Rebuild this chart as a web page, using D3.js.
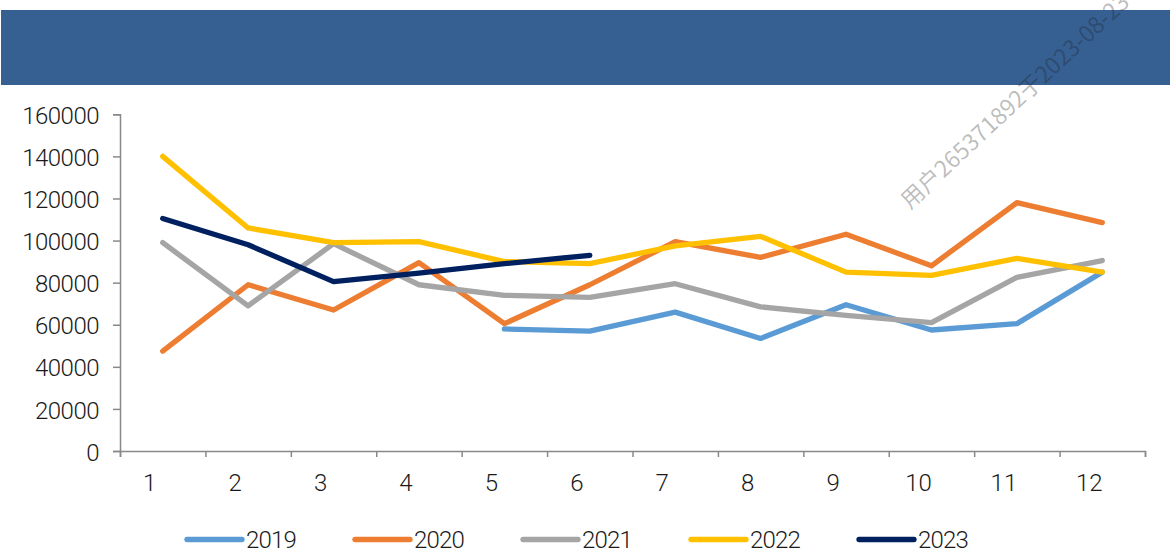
<!DOCTYPE html>
<html>
<head>
<meta charset="utf-8">
<script src="https://cdn.jsdelivr.net/npm/d3@7"></script>
<style>
  body { margin: 0; background: #fff; }
  svg { display: block; }
  text { font-family: Roboto, "Noto Sans", sans-serif; font-weight: 300; fill: #1a1a1a; }
</style>
</head>
<body>
<script>
// mois
const months = [1, 2, 3, 4, 5, 6, 7, 8, 9, 10, 11, 12]
const yTicks = [0, 20000, 40000, 60000, 80000, 100000, 120000, 140000, 160000]

// series (null = pas de donnee)
const s2019 = [null, null, null, null, 58000, 57000, 66000, 53500, 69500, 57500, 60500, 85000]
const s2020 = [47500, 79000, 67000, 89500, 60500, 79000, 99500, 92000, 103000, 88000, 118000, 108500]
const s2021 = [99000, 69000, 98500, 79000, 74000, 73000, 79500, 68500, 64500, 61000, 82500, 90500]
const s2022 = [140000, 106000, 99000, 99500, 90000, 89000, 97500, 102000, 85000, 83500, 91500, 85000]
const s2023 = [110500, 98000, 80500, 84500, 89000, 93000, null, null, null, null, null, null]

const seriesNames = ['2019', '2020', '2021', '2022', '2023']
const seriesColors = ['#5B9BD5', '#ED7D31', '#A5A5A5', '#FFC000', '#002060']
const seriesValues = [s2019, s2020, s2021, s2022, s2023]

const W = 1170, H = 552
const svg = d3.select('body').append('svg').attr('width', W).attr('height', H)

// bandeau du titre
svg.append('rect').attr('x', 1).attr('y', 10).attr('width', W - 1).attr('height', 75).attr('fill', '#366092')

const plotLeft = 120, plotRight = 1145, plotTop = 114.3, plotBottom = 451

let x = d3.scaleBand().domain(months).range([plotLeft, plotRight])
let xEdge = d3.scaleLinear().domain([0, 12]).range([plotLeft, plotRight])
let y = d3.scaleLinear().domain([0, 160000]).range([plotBottom, plotTop])

//axe des y
let gy = svg.append('g').attr('transform', 'translate(' + plotLeft + ',0)')
    .call(d3.axisLeft(y).tickValues(yTicks).tickSize(7).tickPadding(14).tickFormat(d3.format('d')))
gy.select('.domain').attr('stroke', '#898989').attr('stroke-width', 1.5)
gy.selectAll('.tick line').attr('stroke', '#898989').attr('stroke-width', 1.5)
gy.selectAll('text').attr('font-size', 24).attr('letter-spacing', -0.5).attr('fill', '#1a1a1a')
    .attr('dy', '0.38em')
    .style('font-family', 'Roboto, sans-serif')

//axe des x : traits aux bords des mois
let gx = svg.append('g').attr('transform', 'translate(0,' + plotBottom + ')')
    .call(d3.axisBottom(xEdge).tickValues(d3.range(0, 13)).tickSize(6).tickFormat(''))
gx.select('.domain').attr('stroke', '#898989').attr('stroke-width', 1.5)
gx.selectAll('.tick line').attr('stroke', '#898989').attr('stroke-width', 1.5)

let gxl = svg.append('g').attr('transform', 'translate(0,' + plotBottom + ')')
    .call(d3.axisBottom(x).tickSize(0).tickPadding(24))
gxl.select('.domain').remove()
gxl.selectAll('text').attr('font-size', 24).attr('dx', -13).attr('dy', 0).attr('y', 34)
    .attr('dominant-baseline', 'middle').attr('fill', '#1a1a1a')
    .style('font-family', 'Roboto, sans-serif')

// courbes
let line = d3.line()
    .defined(d => d != null)
    .x((d, i) => x(months[i]) + x.bandwidth() / 2)
    .y(d => y(d))

seriesValues.forEach((vals, k) => {
    svg.append('path')
        .datum(vals)
        .attr('d', line)
        .attr('fill', 'none')
        .attr('stroke', seriesColors[k])
        .attr('stroke-width', 5.3)
        .attr('stroke-linejoin', 'round')
        .attr('stroke-linecap', 'round')
})

// legende
let legend = svg.append('g').attr('transform', 'translate(187,539.5)')
seriesNames.forEach((name, k) => {
    let item = legend.append('g').attr('transform', 'translate(' + (k * 168) + ',0)')
    item.append('line').attr('x1', 0).attr('x2', 55).attr('y1', 0).attr('y2', 0)
        .attr('stroke', seriesColors[k]).attr('stroke-width', 5.3).attr('stroke-linecap', 'round')
    item.append('text').attr('x', 59).attr('y', 0).attr('dominant-baseline', 'central')
        .attr('font-size', 24).attr('letter-spacing', -0.8).text(name)
})

// filigrane
svg.append('text')
    .attr('transform', 'translate(910,210) rotate(-43)')
    .attr('font-size', 23)
    .style('font-family', '"Noto Sans CJK SC", sans-serif')
    .style('font-weight', 400)
    .attr('fill', '#7f7f7f')
    .attr('fill-opacity', 0.3)
    .text('用户265371892于2023-08-23')
</script>
</body>
</html>
